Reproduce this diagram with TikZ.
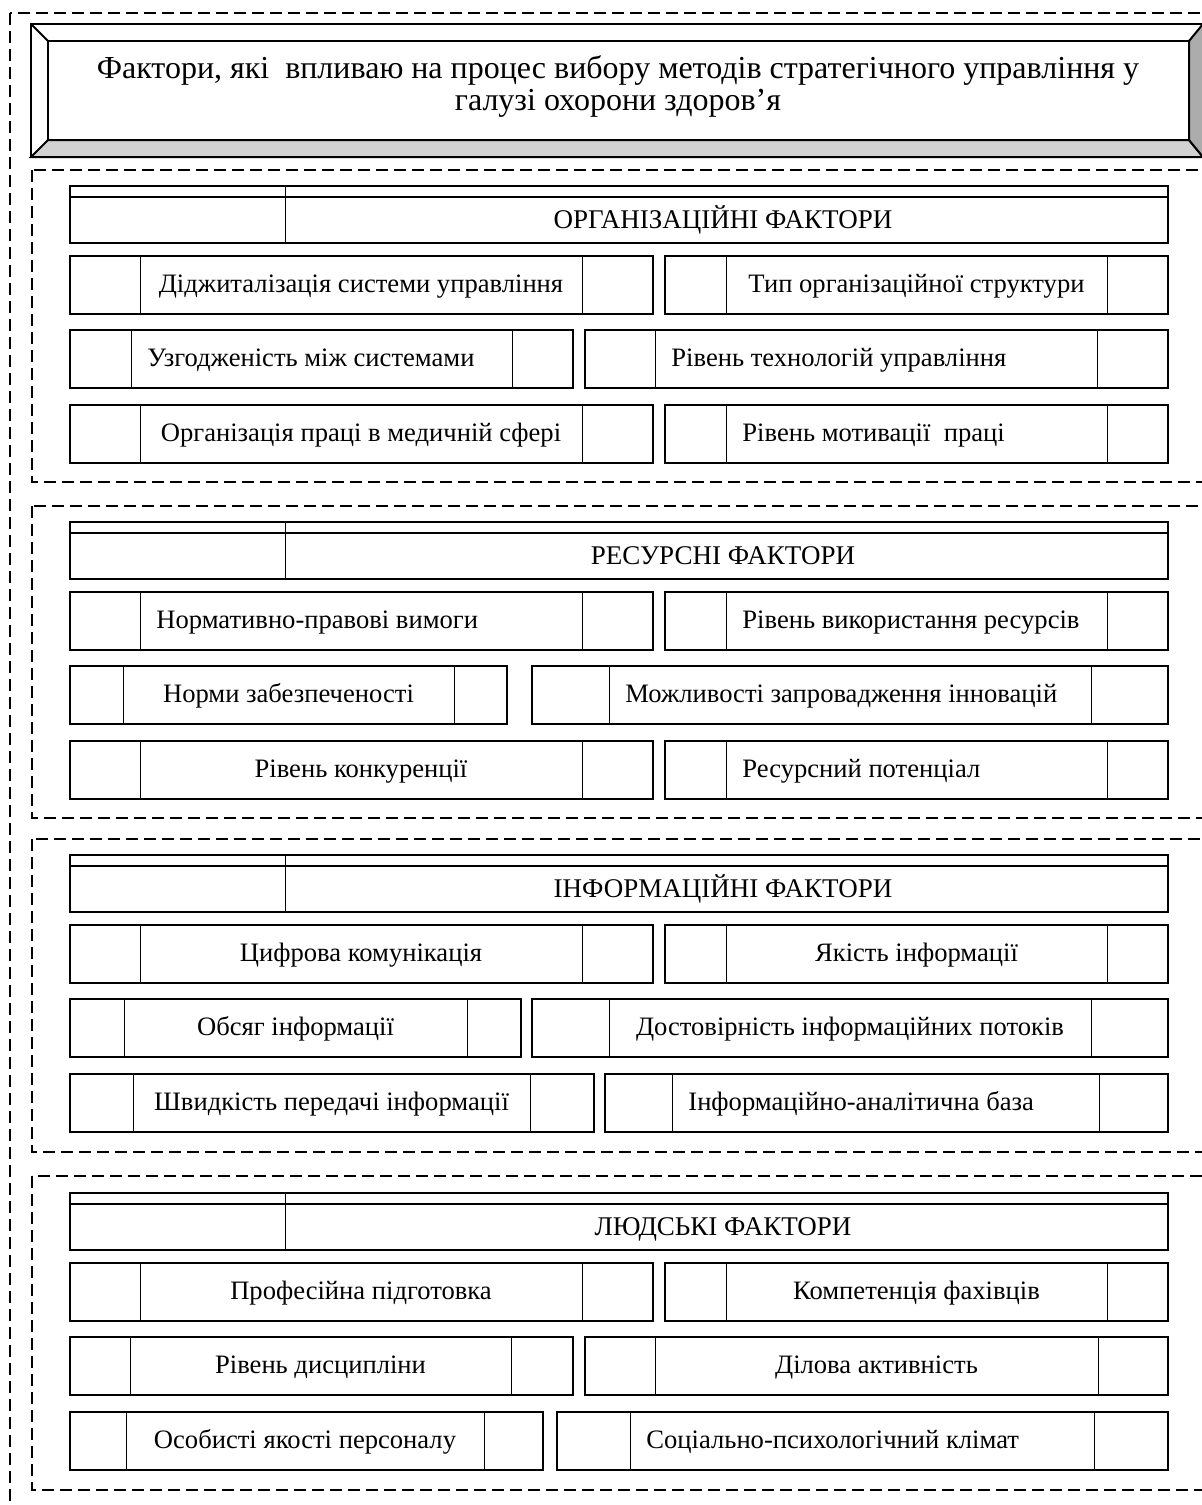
\documentclass[tikz,border=0pt]{standalone}
\usepackage{fontspec}
\setmainfont{Liberation Serif}
\usepackage{tikz}
\usetikzlibrary{positioning}
\tikzset{
    section/.style={
           draw=black, line width=0.75pt,
           dash pattern=on 6pt off 3pt,
           },
    cell/.style={
           draw=black, line width=1pt,
           },
    divider/.style={
           draw=black, line width=0.5pt,
           },
    itemtext/.style={
           inner sep=0pt,
           font=\fontsize{13.3}{16}\selectfont,
           },
    headtext/.style={
           inner sep=0pt,
           font=\fontsize{13.5}{16}\selectfont,
           },
    titletext/.style={
           inner sep=0pt,
           font=\fontsize{16}{19}\selectfont,
           },
}

\newcommand{\factorhead}[3]{%
    \draw[cell] (70,#2) rectangle (1168,#2+57);
    \draw[cell] (70,#2+11) -- (1168,#2+11);
    \draw[divider] (285,#2) -- (285,#2+57);
    \node[headtext,anchor=base] (#1) at (723,#2+42) {#3};
}
\newcommand{\factor}[8][c]{%
    \draw[cell] (#3,#7) rectangle (#6,#7+58);
    \draw[divider] (#4,#7) -- (#4,#7+58) (#5,#7) -- (#5,#7+58);
    \if#1l
        \node[itemtext,anchor=base west] (#2) at (#4+16,#7+36) {#8};
    \else
        \node[itemtext,anchor=base] (#2) at ({(#4+#5)/2},#7+36) {#8};
    \fi
}

\begin{document}
\begin{tikzpicture}[x=0.5pt,y=-0.5pt]

    \useasboundingbox (0,0) rectangle (1202,1505);
    \clip (0,0) rectangle (1202,1505);

    \draw[section] (10,13) rectangle (1230,1530);

    \fill[white] (31,24) rectangle (1203,157);
    \filldraw[fill=gray!35,line width=1pt] (31,157) -- (48,140) -- (1189,140) -- (1203,157) -- cycle;
    \filldraw[fill=gray!65,line width=1pt] (1203,24) -- (1189,41) -- (1189,140) -- (1203,157) -- cycle;
    \draw[line width=1pt] (31,24) rectangle (1203,157);
    \draw[line width=1pt] (48,41) rectangle (1189,140);
    \draw[line width=1pt] (31,24) -- (48,41);
    \node[titletext,anchor=base] (T1) at (618,78)
        {Фактори, які\ \ впливаю на процес вибору методів стратегічного управління у};
    \node[titletext,anchor=base] (T2) at (618,110) {галузі охорони здоров’я};

    \draw[section] (32,170) rectangle (1230,482);
    \factorhead{O}{186}{ОРГАНІЗАЦІЙНІ ФАКТОРИ}
    \factor{O1}{70}{140}{582}{653}{256}{Діджиталізація системи управління}
    \factor{O2}{665}{726}{1107}{1168}{256}{Тип організаційної структури}
    \factor[l]{O3}{70}{131}{512}{573}{330}{Узгодженість між системами}
    \factor[l]{O4}{585}{655}{1097}{1168}{330}{Рівень технологій управління}
    \factor{O5}{70}{140}{582}{653}{405}{Організація праці в медичній сфері}
    \factor[l]{O6}{665}{726}{1107}{1168}{405}{Рівень мотивації\ \ праці}

    \draw[section] (32,506) rectangle (1230,818);
    \factorhead{R}{522}{РЕСУРСНІ ФАКТОРИ}
    \factor[l]{R1}{70}{140}{582}{653}{592}{Нормативно-правові вимоги}
    \factor[l]{R2}{665}{726}{1107}{1168}{592}{Рівень використання ресурсів}
    \factor{R3}{70}{123}{454}{507}{666}{Норми забезпеченості}
    \factor[l]{R4}{532}{609}{1091}{1168}{666}{Можливості запровадження інновацій}
    \factor{R5}{70}{140}{582}{653}{741}{Рівень конкуренції}
    \factor[l]{R6}{665}{726}{1107}{1168}{741}{Ресурсний потенціал}

    \draw[section] (32,839) rectangle (1230,1152);
    \factorhead{I}{855}{ІНФОРМАЦІЙНІ ФАКТОРИ}
    \factor{I1}{70}{140}{582}{653}{925}{Цифрова комунікація}
    \factor{I2}{665}{726}{1107}{1168}{925}{Якість інформації}
    \factor{I3}{70}{124}{467}{521}{999}{Обсяг інформації}
    \factor{I4}{532}{609}{1091}{1168}{999}{Достовірність інформаційних потоків}
    \factor{I5}{70}{133}{530}{594}{1074}{Швидкість передачі інформації}
    \factor[l]{I6}{605}{672}{1099}{1168}{1074}{Інформаційно-аналітична база}

    \draw[section] (32,1176) rectangle (1230,1490);
    \factorhead{L}{1193}{ЛЮДСЬКІ ФАКТОРИ}
    \factor{L1}{70}{140}{582}{653}{1263}{Професійна підготовка}
    \factor{L2}{665}{726}{1107}{1168}{1263}{Компетенція фахівців}
    \factor{L3}{70}{130}{511}{573}{1337}{Рівень дисципліни}
    \factor{L4}{585}{655}{1098}{1168}{1337}{Ділова активність}
    \factor{L5}{70}{126}{484}{543}{1412}{Особисті якості персоналу}
    \factor[l]{L6}{557}{630}{1094}{1168}{1412}{Соціально-психологічний клімат}

\end{tikzpicture}
\end{document}
